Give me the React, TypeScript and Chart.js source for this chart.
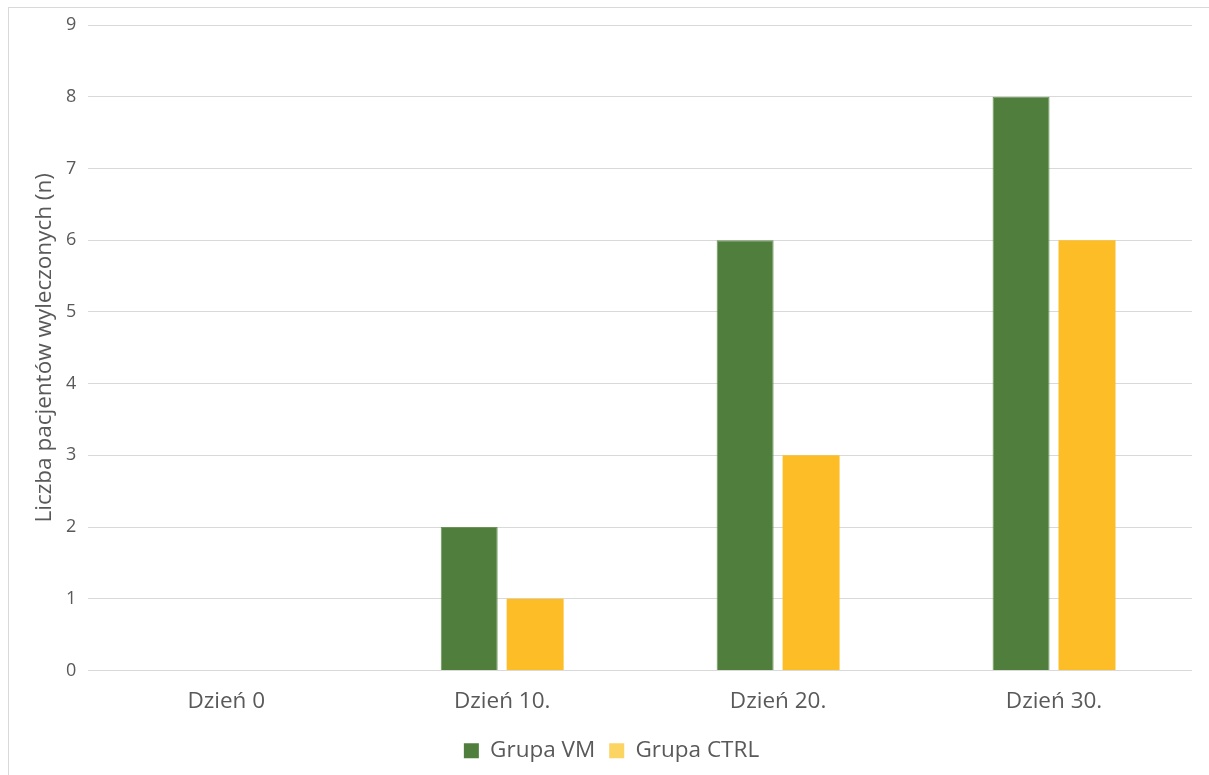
import React, { useEffect, useRef } from "react";
import { Chart, registerables } from "chart.js";

Chart.register(...registerables);

const categories = ["Dzień 0", "Dzień 10.", "Dzień 20.", "Dzień 30."];
const seriesVM = [0, 2, 6, 8];
const seriesCTRL = [0, 1, 3, 6];
const seriesNames = ["Grupa VM", "Grupa CTRL"];
const yAxisTitle = "Liczba pacjentów wyleczonych (n)";

const FONT = "'Open Sans', sans-serif";
const TEXT = "#595959";
const legendSwatches = ["#507e3c", "#fcd462"];

export default function App() {
  const ref = useRef<HTMLCanvasElement | null>(null);

  useEffect(() => {
    if (!ref.current) return;
    const chart = new Chart(ref.current, {
      type: "bar",
      data: {
        labels: categories,
        datasets: [
          {
            label: seriesNames[0],
            data: seriesVM,
            backgroundColor: "#507e3c",
            borderColor: "#6a9458",
            borderWidth: 1,
            categoryPercentage: 0.478,
            barPercentage: 0.864,
          },
          {
            label: seriesNames[1],
            data: seriesCTRL,
            backgroundColor: "#fdbd27",
            borderWidth: 0,
            categoryPercentage: 0.478,
            barPercentage: 0.864,
          },
        ],
      },
      options: {
        animation: false,
        responsive: false,
        maintainAspectRatio: false,
        layout: { padding: { top: 17, right: 17, left: 22, bottom: 2 } },
        plugins: {
          tooltip: { enabled: false },
          legend: {
            position: "bottom",
            labels: {
              boxWidth: 15,
              boxHeight: 15,
              padding: 14,
              color: TEXT,
              font: { family: FONT, size: 22.5 },
              generateLabels: (c: any) => {
                const items = Chart.defaults.plugins.legend.labels.generateLabels(c);
                return items.map((it: any, i: number) => ({
                  ...it,
                  fillStyle: legendSwatches[i],
                  strokeStyle: legendSwatches[i],
                  lineWidth: 0,
                }));
              },
            },
          },
        },
        scales: {
          x: {
            grid: { display: false },
            border: { display: false },
            ticks: {
              color: TEXT,
              font: { family: FONT, size: 22.5 },
              padding: 10,
            },
          },
          y: {
            min: 0,
            max: 9,
            afterFit: (scale: any) => {
              scale.paddingTop = 0;
            },
            grid: { color: "#d9d9d9", lineWidth: 1, drawTicks: false },
            border: { display: false },
            ticks: {
              stepSize: 1,
              color: TEXT,
              font: { family: FONT, size: 18 },
              padding: 12,
            },
            title: {
              display: true,
              text: yAxisTitle,
              color: TEXT,
              font: { family: FONT, size: 22.5 },
              padding: { top: 0, bottom: -4 },
            },
          },
        },
      },
    });
    return () => chart.destroy();
  }, []);

  return (
    <div
      style={{
        position: "fixed",
        left: 8,
        top: 7,
        width: 1210,
        height: 775,
        border: "1px solid #d9d9d9",
        background: "#fff",
        boxSizing: "border-box",
      }}
    >
      <canvas ref={ref} width={1200} height={766} style={{ display: "block" }} />
    </div>
  );
}
